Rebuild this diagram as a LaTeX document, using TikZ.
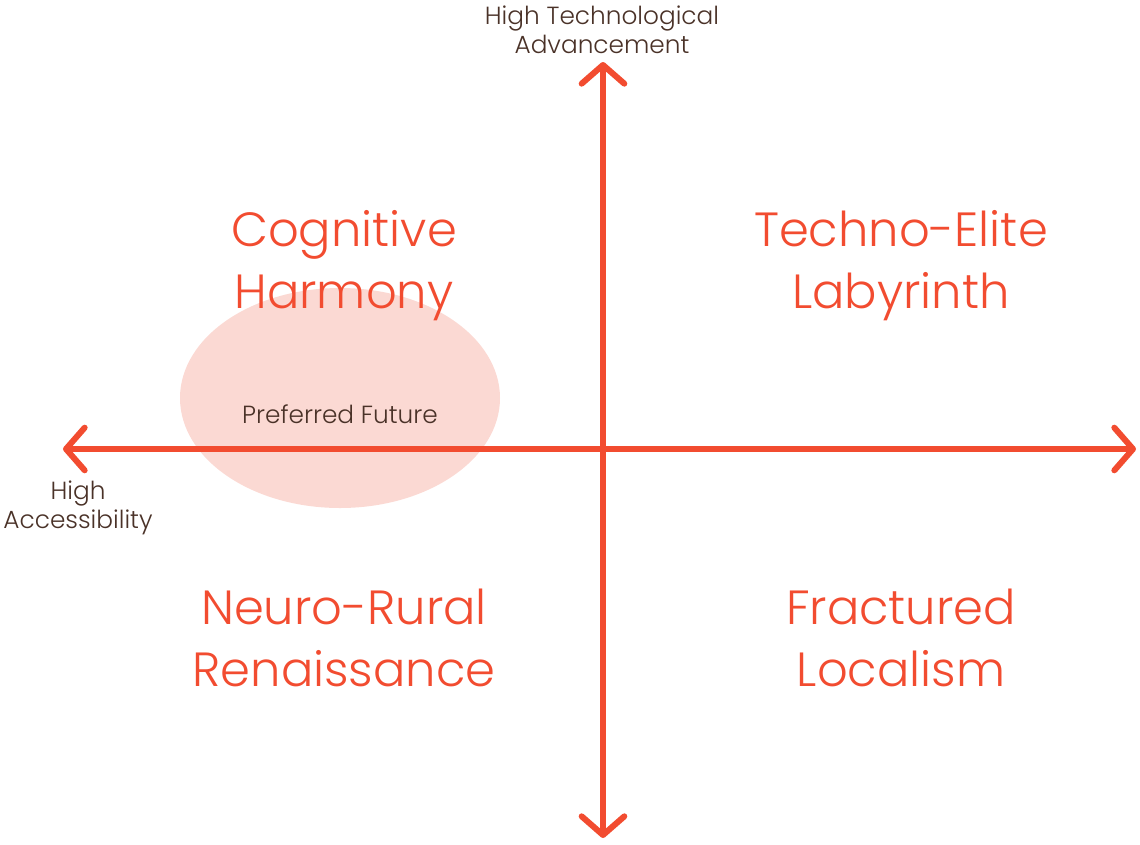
\documentclass[tikz,border=0pt]{standalone}
\usepackage{fontspec}
\setmainfont{Poppins}[UprightFont=* Light]
\usepackage{xcolor}
\usepackage{tikz}
\usetikzlibrary{arrows.meta}
\definecolor{axiscol}{RGB}{242,76,48}
\definecolor{blobcol}{RGB}{251,217,211}
\definecolor{labelcol}{RGB}{74,50,40}

\tikzset{
  axisline/.style={axiscol,line width=4.5pt,line cap=round,
    {Straight Barb[length=14pt,width=32pt,line cap=round,line join=round]}-{Straight Barb[length=14pt,width=32pt,line cap=round,line join=round]}},
  quadtext/.style={axiscol,font=\fontsize{36}{46.5}\selectfont,align=center},
  axistext/.style={labelcol,font=\fontsize{18.6}{21.8}\selectfont,align=center}
}

\begin{document}
\begin{tikzpicture}[x=0.75pt,y=-0.75pt]
\useasboundingbox (0,0) rectangle (1140,844);
% preferred region
\fill[blobcol] (340,398) ellipse [x radius=160,y radius=110];
\node[axistext] (pref) at (340,414) {Preferred Future};
% axes
\coordinate (top) at (603,62);
\coordinate (bottom) at (603,838);
\coordinate (left) at (63,449);
\coordinate (right) at (1136,449);
\draw[axisline] (left) -- (right);
\draw[axisline] (bottom) -- (top);
\node[axistext] (ylab) at (602,30) {High Technological\\Advancement};
\node[axistext] (xlab) at (78,508) {High\\Accessibility};
% quadrants
\node[quadtext] (cog) at (344,266) {Cognitive\\Harmony};
\node[quadtext] (elite) at (901,266) {Techno-Elite\\Labyrinth};
\node[quadtext] (rural) at (344,638) {Neuro-Rural\\Renaissance};
\node[quadtext] (local) at (901,638) {Fractured\\Localism};
\end{tikzpicture}
\end{document}
